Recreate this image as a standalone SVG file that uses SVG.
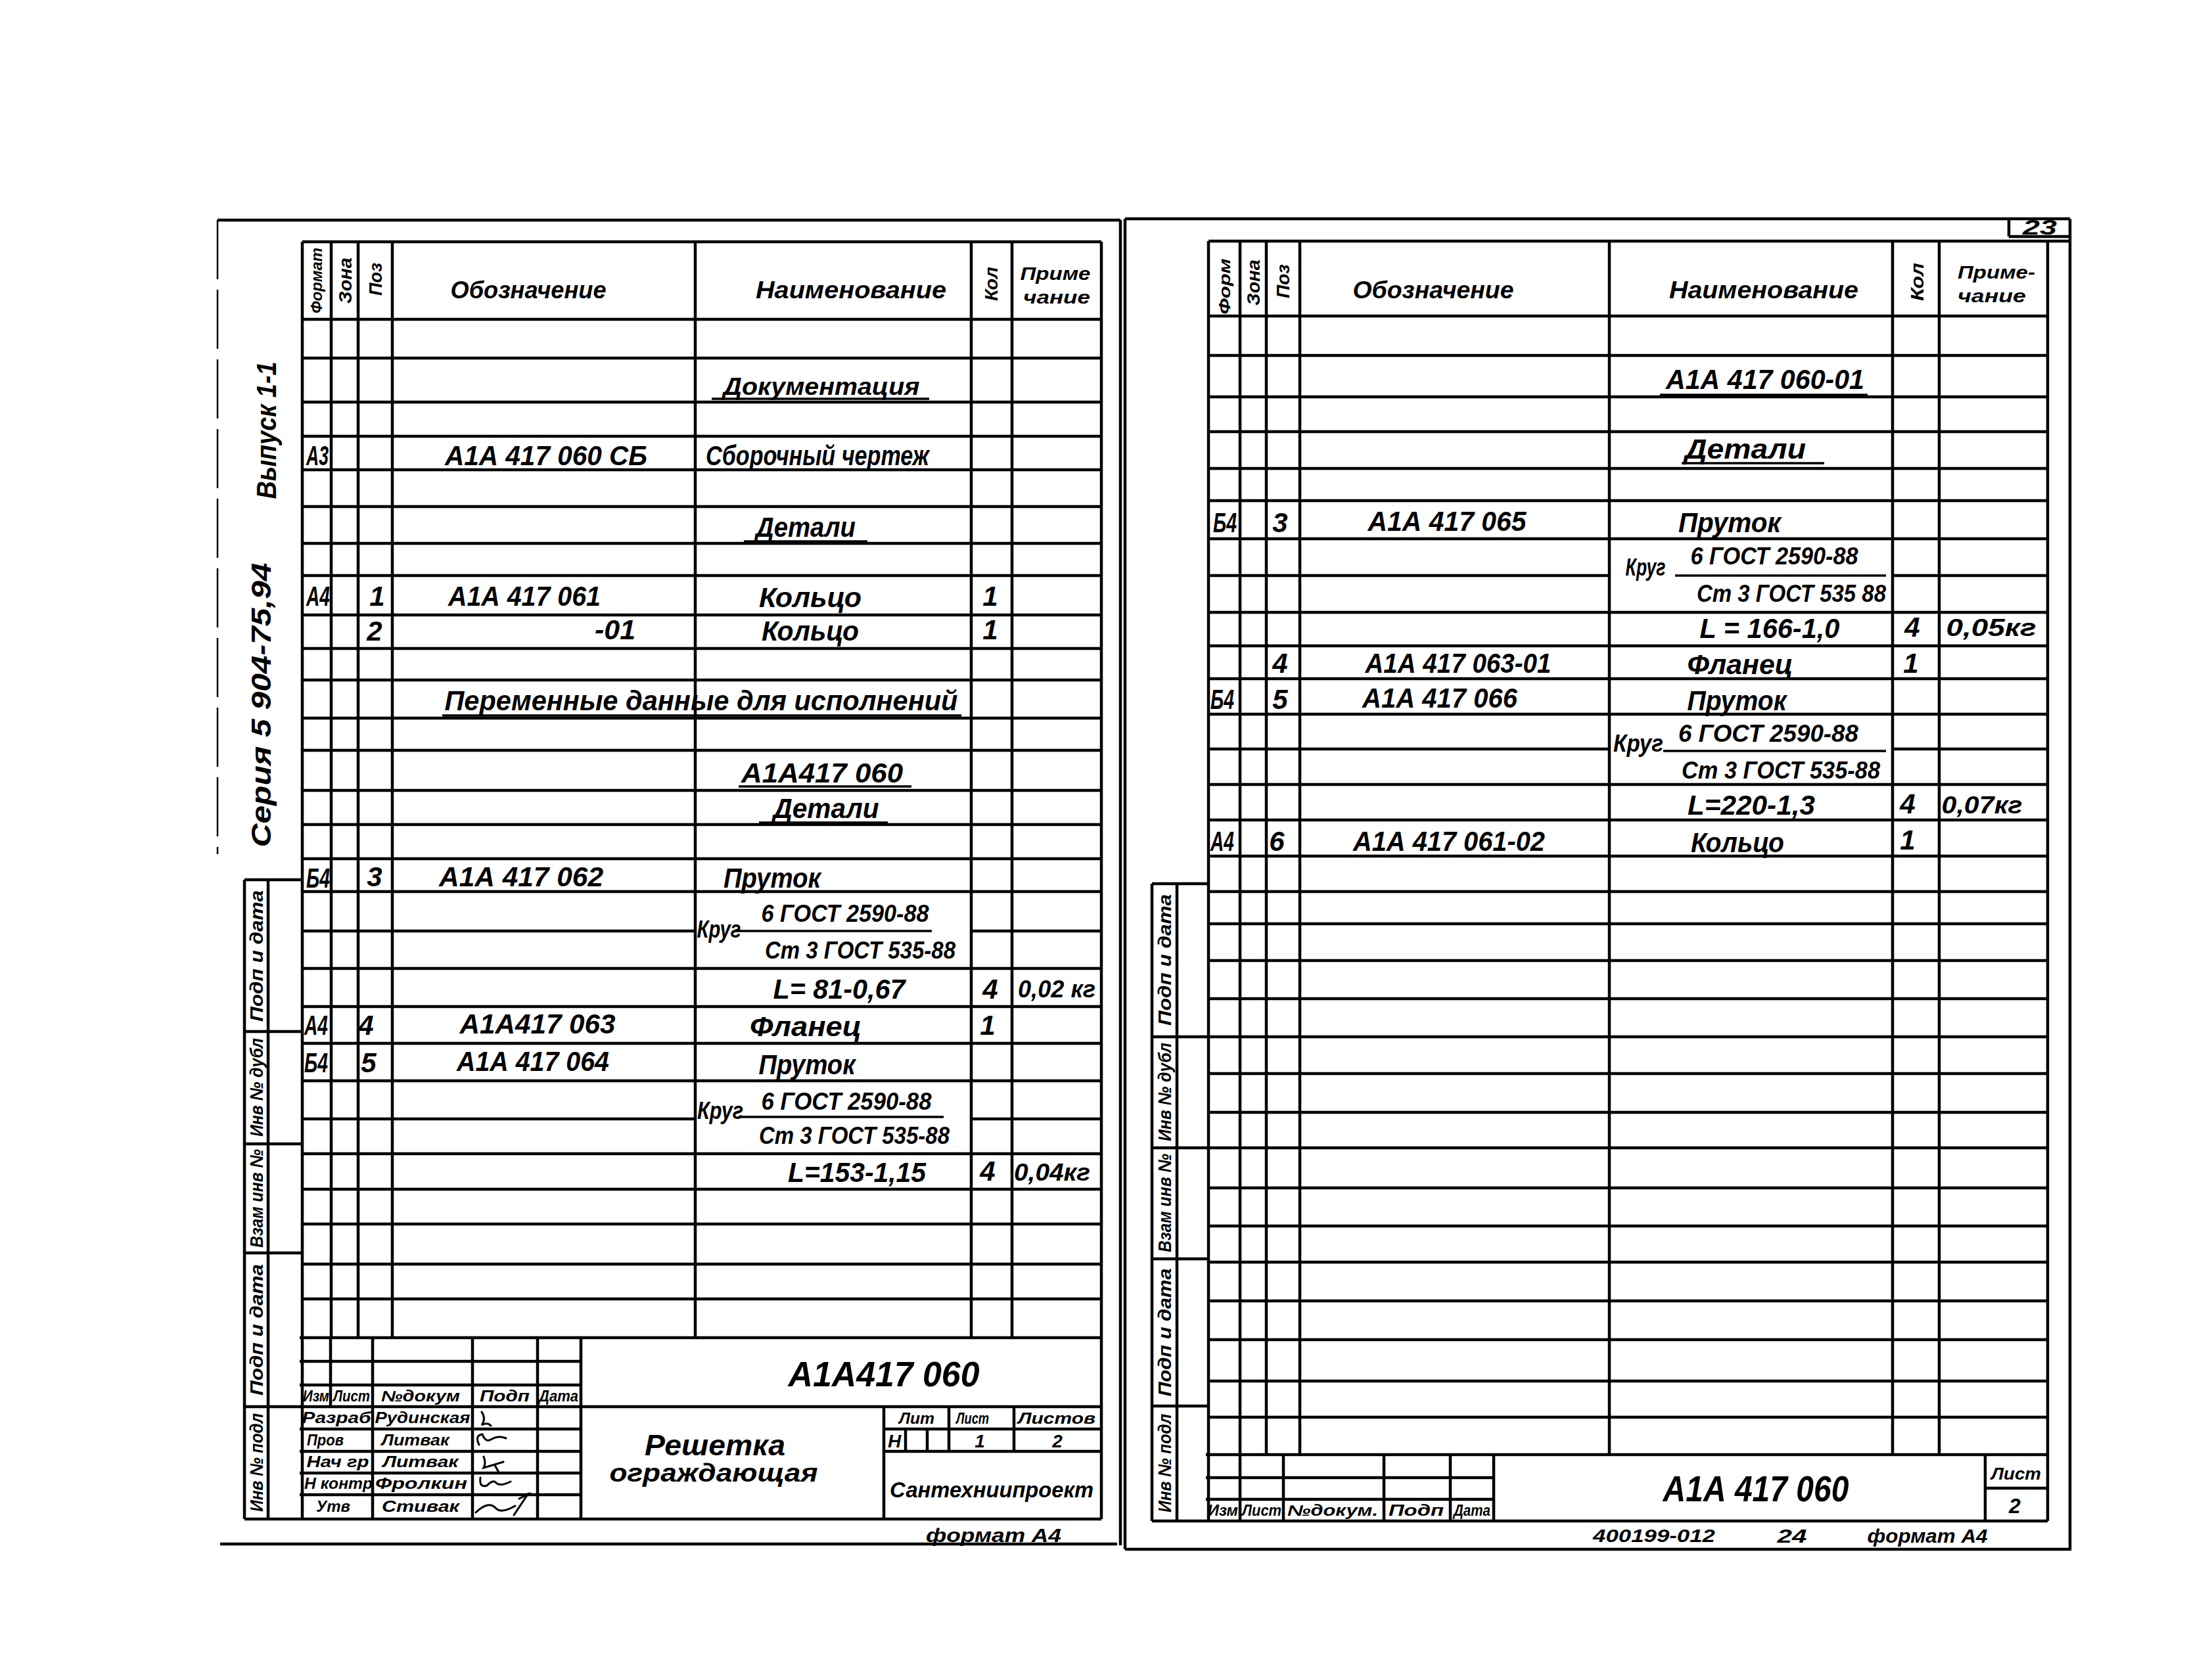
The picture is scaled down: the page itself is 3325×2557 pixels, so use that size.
<svg xmlns="http://www.w3.org/2000/svg" width="3325" height="2557" viewBox="0 0 3325 2557">
<style>
.l{stroke:#000;stroke-width:4.5;fill:none}
.t{stroke:#000;stroke-width:3.5;fill:none}
.d{stroke:#000;stroke-width:2.5;fill:none;stroke-dasharray:90 16}
.g{stroke:#000;stroke-width:3;fill:none;stroke-linecap:round}
text{font-family:"Liberation Sans","DejaVu Sans",sans-serif;font-style:italic;font-weight:bold;fill:#000;text-anchor:middle;dominant-baseline:central}
.h{font-size:36px}
.r{font-size:42px}
.m{font-size:28px}
.f{font-size:42px}
.s{font-size:23px}
</style>
<rect width="3325" height="2557" fill="#fff"/>

<g id="left-sheet-frame">
<path class="l" d="M331 335H1705 M1705 335V2352 M335 2350H1700"/>
<path class="d" d="M331 335V1300"/>
<text class="r" transform="translate(405,655) rotate(-90)" textLength="209" lengthAdjust="spacingAndGlyphs">Выпуск 1-1</text>
<text class="r" transform="translate(397,1073) rotate(-90)" textLength="433" lengthAdjust="spacingAndGlyphs">Серия 5 904-75,94</text>
</g>

<g id="left-stamp-strip">
<path class="l" d="M372 1339H460 M372 1339V2312 M408 1339V2312 M372 1570H460 M372 1741H460 M372 1907H460 M372 2141H460"/>
<text class="m" transform="translate(390,1455) rotate(-90)" textLength="200" lengthAdjust="spacingAndGlyphs">Подп и дата</text>
<text class="m" transform="translate(390,1655) rotate(-90)" textLength="150" lengthAdjust="spacingAndGlyphs">Инв № дубл</text>
<text class="m" transform="translate(390,1824) rotate(-90)" textLength="150" lengthAdjust="spacingAndGlyphs">Взам инв №</text>
<text class="m" transform="translate(390,2024) rotate(-90)" textLength="200" lengthAdjust="spacingAndGlyphs">Подп и дата</text>
<text class="m" transform="translate(390,2226) rotate(-90)" textLength="150" lengthAdjust="spacingAndGlyphs">Инв № подл</text>
</g>

<g id="left-table-grid">
<path class="l" d="M460 368H1676 M460 486H1676 M460 545H1676 M460 612H1676 M460 664H1676 M460 715H1676 M460 771H1676 M460 827H1676 M460 876H1676 M460 936H1676 M460 987H1676 M460 1035H1676 M460 1093H1676 M460 1142H1676 M460 1203H1676 M460 1255H1676 M460 1307H1676 M460 1357H1676 M460 1417H1058 M1478 1417H1676 M460 1474H1676 M460 1532H1676 M460 1588H1676 M460 1645H1676 M460 1703H1058 M1478 1703H1676 M460 1756H1676 M460 1810H1676 M460 1863H1676 M460 1924H1676 M460 1977H1676 M456 2036H1676"/>
<path class="l" d="M460 368V2312 M504 368V2036 M545 368V2036 M597 368V2036 M1058 368V2036 M1478 368V2036 M1540 368V2036 M1676 368V2312"/>
</g>

<g id="left-table-header">
<text class="s" transform="translate(482,427) rotate(-90)" textLength="100" lengthAdjust="spacingAndGlyphs">Формат</text>
<text class="m" transform="translate(525,427) rotate(-90)" textLength="70" lengthAdjust="spacingAndGlyphs">Зона</text>
<text class="m" transform="translate(571,425) rotate(-90)" textLength="50" lengthAdjust="spacingAndGlyphs">Поз</text>
<text class="h" x="804" y="441" textLength="237" lengthAdjust="spacingAndGlyphs">Обозначение</text>
<text class="h" x="1295" y="441" textLength="290" lengthAdjust="spacingAndGlyphs">Наименование</text>
<text class="m" transform="translate(1508,432) rotate(-90)" textLength="52" lengthAdjust="spacingAndGlyphs">Кол</text>
<text class="m" x="1606" y="416" textLength="107" lengthAdjust="spacingAndGlyphs">Приме</text>
<text class="m" x="1608" y="452" textLength="102" lengthAdjust="spacingAndGlyphs">чание</text>
</g>

<g id="left-table-rows">
<text class="h" x="1250" y="588" textLength="299" lengthAdjust="spacingAndGlyphs">Документация</text>
<path class="t" d="M1083 607H1414"/>
<text class="f" x="483" y="693" textLength="34" lengthAdjust="spacingAndGlyphs">А3</text>
<text class="r" x="831" y="693" textLength="308" lengthAdjust="spacingAndGlyphs">А1А 417 060 СБ</text>
<text class="r" x="1244" y="693" textLength="340" lengthAdjust="spacingAndGlyphs">Сборочный чертеж</text>
<text class="r" x="1226" y="802" textLength="152" lengthAdjust="spacingAndGlyphs">Детали</text>
<path class="t" d="M1132 824H1320"/>
<text class="f" x="484" y="907" textLength="36" lengthAdjust="spacingAndGlyphs">А4</text>
<text class="r" x="574" y="907">1</text>
<text class="r" x="798" y="907" textLength="232" lengthAdjust="spacingAndGlyphs">А1А 417 061</text>
<text class="r" x="1233" y="909" textLength="156" lengthAdjust="spacingAndGlyphs">Кольцо</text>
<text class="r" x="1507" y="907">1</text>
<text class="r" x="570" y="960">2</text>
<text class="r" x="936" y="958" textLength="62" lengthAdjust="spacingAndGlyphs">-01</text>
<text class="r" x="1233" y="960" textLength="148" lengthAdjust="spacingAndGlyphs">Кольцо</text>
<text class="r" x="1507" y="958">1</text>
<text class="r" x="1067" y="1066" textLength="781" lengthAdjust="spacingAndGlyphs">Переменные данные для исполнений</text>
<path class="t" d="M673 1089H1463"/>
<text class="r" x="1251" y="1176" textLength="246" lengthAdjust="spacingAndGlyphs">А1А417 060</text>
<path class="t" d="M1124 1197H1387"/>
<text class="r" x="1257" y="1230" textLength="161" lengthAdjust="spacingAndGlyphs">Детали</text>
<path class="t" d="M1155 1252H1351"/>
<text class="f" x="484" y="1336" textLength="36" lengthAdjust="spacingAndGlyphs">Б4</text>
<text class="r" x="570" y="1334">3</text>
<text class="r" x="793" y="1334" textLength="250" lengthAdjust="spacingAndGlyphs">А1А 417 062</text>
<text class="r" x="1175" y="1336" textLength="148" lengthAdjust="spacingAndGlyphs">Пруток</text>
<text class="h" x="1094" y="1414" textLength="67" lengthAdjust="spacingAndGlyphs">Круг</text>
<text class="h" x="1286" y="1390" textLength="255" lengthAdjust="spacingAndGlyphs">6 ГОСТ 2590-88</text>
<path class="t" d="M1119 1417H1418"/>
<text class="h" x="1309" y="1446" textLength="290" lengthAdjust="spacingAndGlyphs">Ст 3 ГОСТ 535-88</text>
<text class="r" x="1277" y="1505" textLength="201" lengthAdjust="spacingAndGlyphs">L= 81-0,67</text>
<text class="r" x="1507" y="1505">4</text>
<text class="h" x="1608" y="1505" textLength="118" lengthAdjust="spacingAndGlyphs">0,02 кг</text>
<text class="f" x="481" y="1560" textLength="36" lengthAdjust="spacingAndGlyphs">А4</text>
<text class="r" x="557" y="1560">4</text>
<text class="r" x="818" y="1558" textLength="237" lengthAdjust="spacingAndGlyphs">А1А417 063</text>
<text class="r" x="1226" y="1562" textLength="170" lengthAdjust="spacingAndGlyphs">Фланец</text>
<text class="r" x="1503" y="1560">1</text>
<text class="f" x="481" y="1617" textLength="36" lengthAdjust="spacingAndGlyphs">Б4</text>
<text class="r" x="561" y="1617">5</text>
<text class="r" x="811" y="1615" textLength="232" lengthAdjust="spacingAndGlyphs">А1А 417 064</text>
<text class="r" x="1228" y="1620" textLength="147" lengthAdjust="spacingAndGlyphs">Пруток</text>
<text class="h" x="1096" y="1690" textLength="70" lengthAdjust="spacingAndGlyphs">Круг</text>
<text class="h" x="1288" y="1676" textLength="259" lengthAdjust="spacingAndGlyphs">6 ГОСТ 2590-88</text>
<path class="t" d="M1124 1700H1436"/>
<text class="h" x="1300" y="1728" textLength="290" lengthAdjust="spacingAndGlyphs">Ст 3 ГОСТ 535-88</text>
<text class="r" x="1304" y="1784" textLength="210" lengthAdjust="spacingAndGlyphs">L=153-1,15</text>
<text class="r" x="1503" y="1782">4</text>
<text class="h" x="1601" y="1784" textLength="116" lengthAdjust="spacingAndGlyphs">0,04кг</text>
</g>

<g id="left-title-block">
<path class="l" d="M456 2072H884 M456 2108H884 M456 2141H1676 M456 2175H884 M1345 2175H1676 M456 2209H884 M1345 2209H1676 M456 2242H884 M456 2275H884 M372 2312H1676 M503 2036V2141 M567 2036V2312 M719 2036V2312 M818 2036V2312 M884 2036V2312 M1345 2141V2312 M1444 2141V2209 M1543 2141V2209 M1378 2175V2209 M1411 2175V2209"/>
<text class="s" x="481" y="2125" textLength="40" lengthAdjust="spacingAndGlyphs">Изм</text>
<text class="s" x="535" y="2125" textLength="56" lengthAdjust="spacingAndGlyphs">Лист</text>
<text class="s" x="640" y="2125" textLength="120" lengthAdjust="spacingAndGlyphs">№докум</text>
<text class="s" x="768" y="2125" textLength="76" lengthAdjust="spacingAndGlyphs">Подп</text>
<text class="s" x="850" y="2125" textLength="60" lengthAdjust="spacingAndGlyphs">Дата</text>
<text class="s" x="512" y="2158" textLength="105" lengthAdjust="spacingAndGlyphs">Разраб</text>
<text class="s" x="643" y="2158" textLength="145" lengthAdjust="spacingAndGlyphs">Рудинская</text>
<text class="s" x="495" y="2192" textLength="56" lengthAdjust="spacingAndGlyphs">Пров</text>
<text class="s" x="632" y="2192" textLength="103" lengthAdjust="spacingAndGlyphs">Литвак</text>
<text class="s" x="514" y="2225" textLength="95" lengthAdjust="spacingAndGlyphs">Нач гр</text>
<text class="s" x="640" y="2225" textLength="115" lengthAdjust="spacingAndGlyphs">Литвак</text>
<text class="s" x="515" y="2258" textLength="104" lengthAdjust="spacingAndGlyphs">Н контр</text>
<text class="s" x="641" y="2258" textLength="140" lengthAdjust="spacingAndGlyphs">Фролкин</text>
<text class="s" x="507" y="2293" textLength="52" lengthAdjust="spacingAndGlyphs">Утв</text>
<text class="s" x="640" y="2293" textLength="118" lengthAdjust="spacingAndGlyphs">Стивак</text>
<path class="g" d="M733 2149q7 10 0 20q9-5 14 1 M729 2199q-7-14 5-16q5 13 13 8q11-7 23-2 M736 2217q4 10 0 17q14-4 30-9 M753 2230l6 11 M731 2249q-2 16 10 12q10-10 14-4q6 6 22-2 M724 2302q20-19 31-6q8 8 29-4 M782 2306l22-33 M790 2281l17-8"/>
<text font-size="54" x="1345" y="2091" textLength="291" lengthAdjust="spacingAndGlyphs">А1А417 060</text>
<text font-size="44" x="1088" y="2199" textLength="214" lengthAdjust="spacingAndGlyphs">Решетка</text>
<text font-size="38" x="1086" y="2242" textLength="317" lengthAdjust="spacingAndGlyphs">ограждающая</text>
<text class="s" x="1395" y="2159" textLength="54" lengthAdjust="spacingAndGlyphs">Лит</text>
<text class="s" x="1480" y="2159" textLength="50" lengthAdjust="spacingAndGlyphs">Лист</text>
<text class="s" x="1608" y="2159" textLength="118" lengthAdjust="spacingAndGlyphs">Листов</text>
<text font-size="28" x="1361" y="2193">Н</text>
<text font-size="28" x="1491" y="2193">1</text>
<text font-size="28" x="1609" y="2193">2</text>
<text font-size="34" x="1509" y="2267" textLength="310" lengthAdjust="spacingAndGlyphs">Сантехниипроект</text>
<text font-size="30" x="1512" y="2336" textLength="206" lengthAdjust="spacingAndGlyphs">формат А4</text>
</g>

<g id="right-sheet-frame">
<path class="l" d="M1712 333H3150 M1712 333V2358 M3150 333V2360 M1712 2358H3150 M3057 333V360 M3057 360H3150"/>
<text font-size="32" x="3104" y="346" textLength="52" lengthAdjust="spacingAndGlyphs">23</text>
</g>

<g id="right-stamp-strip">
<path class="l" d="M1753 1345H1839 M1753 1345V2315 M1791 1345V2315 M1753 1578H1839 M1753 1747H1839 M1753 1916H1839 M1753 2140H1839"/>
<text class="m" transform="translate(1772,1461) rotate(-90)" textLength="200" lengthAdjust="spacingAndGlyphs">Подп и дата</text>
<text class="m" transform="translate(1772,1662) rotate(-90)" textLength="150" lengthAdjust="spacingAndGlyphs">Инв № дубл</text>
<text class="m" transform="translate(1772,1831) rotate(-90)" textLength="150" lengthAdjust="spacingAndGlyphs">Взам инв №</text>
<text class="m" transform="translate(1772,2028) rotate(-90)" textLength="195" lengthAdjust="spacingAndGlyphs">Подп и дата</text>
<text class="m" transform="translate(1772,2227) rotate(-90)" textLength="150" lengthAdjust="spacingAndGlyphs">Инв № подл</text>
</g>

<g id="right-table-grid">
<path class="l" d="M1839 367H3150 M1839 481H3116 M1839 541H3116 M1839 604H3116 M1839 657H3116 M1839 713H3116 M1839 762H3116 M1839 820H3116 M1839 876H2449 M2880 876H3116 M1839 932H3116 M1839 983H3116 M1839 1033H3116 M1839 1087H3116 M1839 1140H2449 M2880 1140H3116 M1839 1194H3116 M1839 1248H3116 M1839 1303H3116 M1839 1357H3116 M1839 1406H3116 M1839 1462H3116 M1839 1520H3116 M1839 1578H3116 M1839 1634H3116 M1839 1693H3116 M1839 1747H3116 M1839 1808H3116 M1839 1866H3116 M1839 1921H3116 M1839 1980H3116 M1839 2039H3116 M1839 2102H3116 M1839 2157H3116 M1835 2214H3116"/>
<path class="l" d="M1839 367V2315 M1887 367V2214 M1927 367V2214 M1978 367V2214 M2449 367V2214 M2880 367V2214 M2951 367V2214 M3116 367V2315"/>
</g>

<g id="right-table-header">
<text class="s" transform="translate(1864,436) rotate(-90)" textLength="85" lengthAdjust="spacingAndGlyphs">Форм</text>
<text class="m" transform="translate(1907,430) rotate(-90)" textLength="70" lengthAdjust="spacingAndGlyphs">Зона</text>
<text class="m" transform="translate(1952,428) rotate(-90)" textLength="52" lengthAdjust="spacingAndGlyphs">Поз</text>
<text class="h" x="2181" y="441" textLength="245" lengthAdjust="spacingAndGlyphs">Обозначение</text>
<text class="h" x="2684" y="441" textLength="288" lengthAdjust="spacingAndGlyphs">Наименование</text>
<text class="m" transform="translate(2917,429) rotate(-90)" textLength="58" lengthAdjust="spacingAndGlyphs">Кол</text>
<text class="m" x="3038" y="414" textLength="118" lengthAdjust="spacingAndGlyphs">Приме-</text>
<text class="m" x="3031" y="450" textLength="104" lengthAdjust="spacingAndGlyphs">чание</text>
</g>

<g id="right-table-rows">
<text class="r" x="2686" y="577" textLength="302" lengthAdjust="spacingAndGlyphs">А1А 417 060-01</text>
<path class="t" d="M2526 601H2842"/>
<text class="r" x="2656" y="683" textLength="184" lengthAdjust="spacingAndGlyphs">Детали</text>
<path class="t" d="M2559 705H2776"/>
<text class="f" x="1864" y="795" textLength="36" lengthAdjust="spacingAndGlyphs">Б4</text>
<text class="r" x="1948" y="795">3</text>
<text class="r" x="2202" y="793" textLength="241" lengthAdjust="spacingAndGlyphs">А1А 417 065</text>
<text class="r" x="2632" y="795" textLength="156" lengthAdjust="spacingAndGlyphs">Пруток</text>
<text class="h" x="2504" y="863" textLength="61" lengthAdjust="spacingAndGlyphs">Круг</text>
<text class="h" x="2700" y="846" textLength="255" lengthAdjust="spacingAndGlyphs">6 ГОСТ 2590-88</text>
<path class="t" d="M2549 876H2870"/>
<text class="h" x="2726" y="903" textLength="288" lengthAdjust="spacingAndGlyphs">Ст 3 ГОСТ 535 88</text>
<text class="r" x="2693" y="956" textLength="213" lengthAdjust="spacingAndGlyphs">L = 166-1,0</text>
<text class="r" x="2910" y="954">4</text>
<text class="h" x="3030" y="955" textLength="137" lengthAdjust="spacingAndGlyphs">0,05кг</text>
<text class="r" x="1948" y="1009">4</text>
<text class="r" x="2219" y="1009" textLength="283" lengthAdjust="spacingAndGlyphs">А1А 417 063-01</text>
<text class="r" x="2648" y="1011" textLength="161" lengthAdjust="spacingAndGlyphs">Фланец</text>
<text class="r" x="2908" y="1009">1</text>
<text class="f" x="1860" y="1064" textLength="36" lengthAdjust="spacingAndGlyphs">Б4</text>
<text class="r" x="1948" y="1064">5</text>
<text class="r" x="2191" y="1062" textLength="236" lengthAdjust="spacingAndGlyphs">А1А 417 066</text>
<text class="r" x="2643" y="1066" textLength="151" lengthAdjust="spacingAndGlyphs">Пруток</text>
<text class="h" x="2493" y="1131" textLength="76" lengthAdjust="spacingAndGlyphs">Круг</text>
<text class="h" x="2691" y="1116" textLength="274" lengthAdjust="spacingAndGlyphs">6 ГОСТ 2590-88</text>
<path class="t" d="M2531 1143H2870"/>
<text class="h" x="2710" y="1172" textLength="302" lengthAdjust="spacingAndGlyphs">Ст 3 ГОСТ 535-88</text>
<text class="r" x="2665" y="1225" textLength="194" lengthAdjust="spacingAndGlyphs">L=220-1,3</text>
<text class="r" x="2903" y="1223">4</text>
<text class="h" x="3016" y="1225" textLength="123" lengthAdjust="spacingAndGlyphs">0,07кг</text>
<text class="f" x="1860" y="1280" textLength="36" lengthAdjust="spacingAndGlyphs">А4</text>
<text class="r" x="1943" y="1280">6</text>
<text class="r" x="2205" y="1280" textLength="292" lengthAdjust="spacingAndGlyphs">А1А 417 061-02</text>
<text class="r" x="2644" y="1282" textLength="142" lengthAdjust="spacingAndGlyphs">Кольцо</text>
<text class="r" x="2903" y="1278">1</text>
</g>

<g id="right-title-block">
<path class="l" d="M1835 2249H2273 M1835 2282H2273 M1753 2315H3116 M1887 2214V2315 M1953 2214V2315 M2106 2214V2315 M2207 2214V2315 M2273 2214V2315 M3021 2214V2315 M3021 2265H3116"/>
<text class="s" x="1861" y="2299" textLength="46" lengthAdjust="spacingAndGlyphs">Изм</text>
<text class="s" x="1920" y="2299" textLength="60" lengthAdjust="spacingAndGlyphs">Лист</text>
<text class="s" x="2028" y="2299" textLength="138" lengthAdjust="spacingAndGlyphs">№докум.</text>
<text class="s" x="2155" y="2299" textLength="84" lengthAdjust="spacingAndGlyphs">Подп</text>
<text class="s" x="2240" y="2299" textLength="56" lengthAdjust="spacingAndGlyphs">Дата</text>
<text font-size="56" x="2672" y="2265" textLength="283" lengthAdjust="spacingAndGlyphs">А1А 417 060</text>
<text font-size="26" x="3068" y="2243" textLength="76" lengthAdjust="spacingAndGlyphs">Лист</text>
<text font-size="32" x="3066" y="2292">2</text>
<text font-size="28" x="2517" y="2337" textLength="186" lengthAdjust="spacingAndGlyphs">400199-012</text>
<text font-size="30" x="2727" y="2337" textLength="45" lengthAdjust="spacingAndGlyphs">24</text>
<text font-size="30" x="2933" y="2337" textLength="183" lengthAdjust="spacingAndGlyphs">формат А4</text>
</g>
</svg>
